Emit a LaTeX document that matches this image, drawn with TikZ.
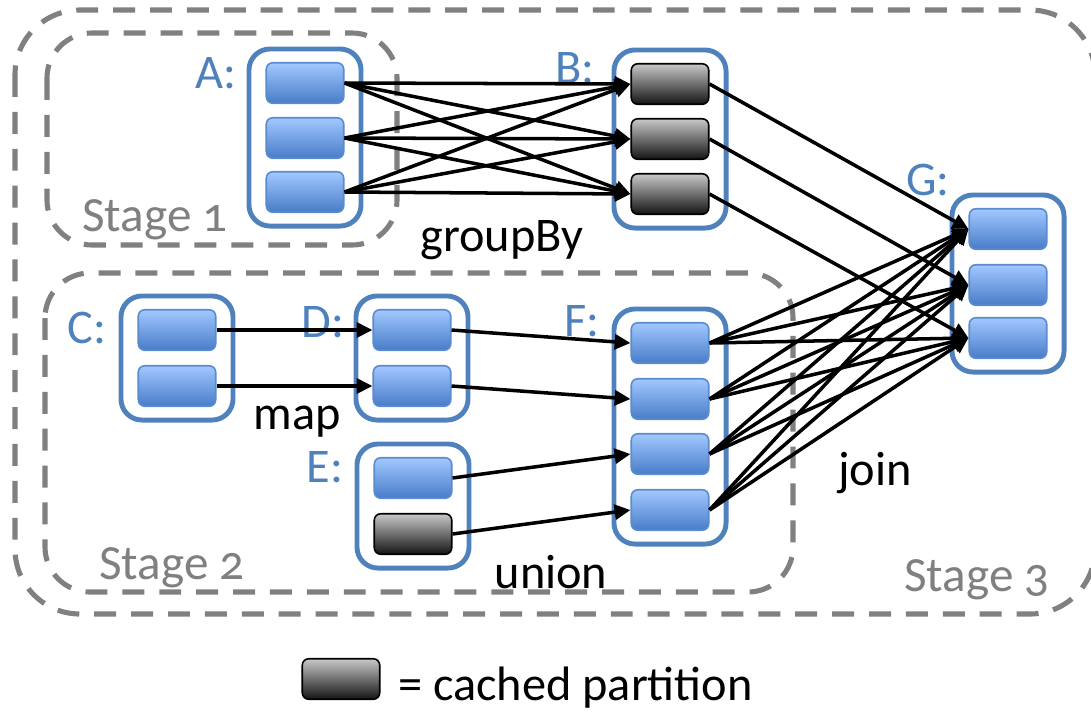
\documentclass[tikz,border=0pt]{standalone}
\usepackage{fontspec}
\setmainfont{Carlito}
\newfontfamily\stagefont[Numbers=OldStyle]{Carlito}
\usetikzlibrary{arrows.meta,fit,backgrounds}
\definecolor{cblue}{RGB}{79,129,189}
\definecolor{pborder}{RGB}{90,140,205}
\definecolor{ptop}{RGB}{162,200,255}
\definecolor{pbot}{RGB}{72,124,200}
\definecolor{gtop}{RGB}{200,200,200}
\definecolor{gbot}{RGB}{20,20,20}
\definecolor{dgray}{RGB}{128,128,128}
\begin{document}
\begin{tikzpicture}[x=0.02cm,y=-0.02cm,
  part/.style={draw=pborder, line width=0.9pt, rounded corners=0.13cm, minimum width=1.55cm, minimum height=0.81cm, inner sep=0pt, top color=ptop, bottom color=pbot},
  cpart/.style={part, draw=black, top color=gtop, bottom color=gbot},
  cont/.style={draw=cblue, line width=2.8pt, rounded corners=0.42cm, inner xsep=0.33cm, inner ysep=0.26cm},
  stagebox/.style={draw=dgray, line width=2.9pt, dash pattern=on 12.5pt off 8.5pt},
  lbl/.style={text=cblue, font=\fontsize{27.5}{32}\selectfont},
  op/.style={font=\fontsize{27.5}{32}\selectfont},
  stg/.style={text=dgray, font=\stagefont\fontsize{28}{32}\selectfont},
  arr/.style={line width=2pt, -{Triangle[length=9pt,width=8.5pt]}}]
\useasboundingbox (0,0) rectangle (1091,711);

% stage boxes
\draw[stagebox, rounded corners=1.3cm] (15,10) rectangle (1095,614);
\draw[stagebox, rounded corners=0.9cm] (47,33) rectangle (397,245);
\draw[stagebox, rounded corners=0.9cm] (45,273) rectangle (793,592);
\node[stg] (s1) at (155,220) {Stage 1};
\node[stg] (s2) at (172,568) {Stage 2};
\node[stg] (s3) at (977,580) {Stage 3};

% partitions
\node[part] (a1) at (305,83) {};
\node[part] (a2) at (305,138) {};
\node[part] (a3) at (305,192) {};
\node[cpart] (b1) at (670,84) {};
\node[cpart] (b2) at (670,139) {};
\node[cpart] (b3) at (670,194) {};
\node[part] (g1) at (1008,229) {};
\node[part] (g2) at (1008,285) {};
\node[part] (g3) at (1008,338) {};
\node[part] (c1) at (177,330) {};
\node[part] (c2) at (177,386) {};
\node[part] (d1) at (412,330) {};
\node[part] (d2) at (412,386) {};
\node[part] (e1) at (413,478) {};
\node[cpart] (e2) at (413,534) {};
\node[part] (f1) at (670,343) {};
\node[part] (f2) at (670,399) {};
\node[part] (f3) at (670,454) {};
\node[part] (f4) at (670,510) {};

% containers
\begin{scope}[on background layer]
\node[cont, fit=(a1)(a3)] (A) {};
\node[cont, fit=(b1)(b3)] (B) {};
\node[cont, fit=(g1)(g3)] (G) {};
\node[cont, fit=(c1)(c2)] (C) {};
\node[cont, fit=(d1)(d2)] (D) {};
\node[cont, fit=(e1)(e2)] (E) {};
\node[cont, fit=(f1)(f4)] (F) {};
\end{scope}

% labels
\node[lbl] (la) at (216,73) {A:};
\node[lbl] (lb) at (575,68) {B:};
\node[lbl] (lc) at (87,328) {C:};
\node[lbl] (ld) at (323,322) {D:};
\node[lbl] (le) at (325,467) {E:};
\node[lbl] (lf) at (582,321) {F:};
\node[lbl] (lg) at (928,180) {G:};

\node[op] (gb) at (502,240) {groupBy};
\node[op] (mp) at (297,422) {map};
\node[op] (un) at (551,572) {union};
\node[op] (jn) at (875,473) {join};

% arrows
\foreach \i in {a1,a2,a3}{\foreach \j in {b1,b2,b3}{\draw[arr] (\i.east) -- (\j.west);}}
\draw[arr] (b1.east) -- (g1.west);
\draw[arr] (b2.east) -- (g2.west);
\draw[arr] (b3.east) -- (g3.west);
\foreach \i in {f1,f2,f3,f4}{\foreach \j in {g1,g2,g3}{\draw[arr] (\i.east) -- (\j.west);}}
\draw[arr] (c1.east) -- (d1.west);
\draw[arr] (c2.east) -- (d2.west);
\draw[arr] (d1.east) -- (f1.west);
\draw[arr] (d2.east) -- (f2.west);
\draw[arr] (e1.east) -- (f3.west);
\draw[arr] (e2.east) -- (f4.west);

% legend
\node[cpart] (lgp) at (341,679) {};
\node[op, anchor=west] (lgt) at (392,688) {= cached partition};
\end{tikzpicture}
\end{document}
